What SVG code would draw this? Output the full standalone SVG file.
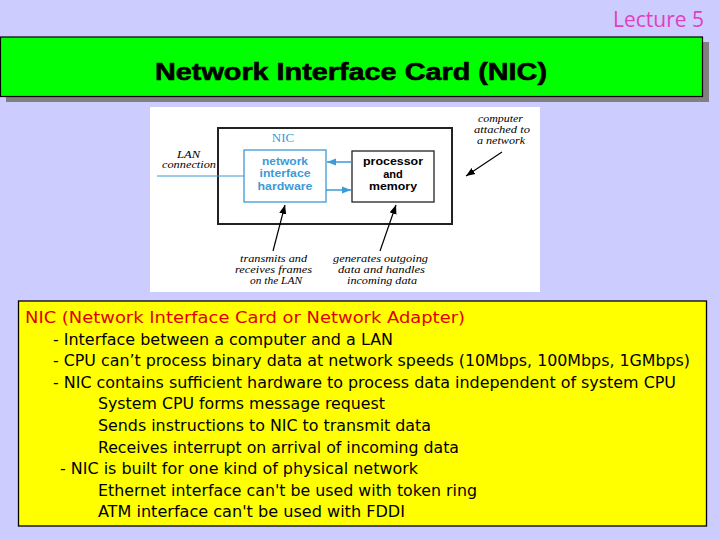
<svg xmlns="http://www.w3.org/2000/svg" width="720" height="540" viewBox="0 0 720 540">
<defs>
<style>
.bul{font-family:"DejaVu Sans Condensed","Liberation Sans",sans-serif;font-size:16px;fill:#000}
.ital{font-family:"Liberation Serif",serif;font-style:italic;font-size:10.5px;fill:#000}
.blue{font-family:"Liberation Sans",sans-serif;font-weight:bold;font-size:11px;fill:#3d9ad6}
.blk{font-family:"Liberation Sans",sans-serif;font-weight:bold;font-size:11px;fill:#000}
</style>
<marker id="ab" viewBox="0 0 10 10" refX="10" refY="5" markerWidth="9" markerHeight="9" markerUnits="userSpaceOnUse" orient="auto"><path d="M0,1 L10,5 L0,9 z" fill="#3d9ad6"/></marker>
<marker id="ak" viewBox="0 0 10 10" refX="10" refY="5" markerWidth="9" markerHeight="9" markerUnits="userSpaceOnUse" orient="auto"><path d="M0,1 L10,5 L0,9 z" fill="#000"/></marker>
</defs>
<rect width="720" height="540" fill="#ccccff"/>
<text x="704" y="27" text-anchor="end" font-family="'Open Sans','Liberation Sans',sans-serif" font-size="21" fill="#e040c0">Lecture 5</text>
<g id="title">
<rect x="6" y="42" width="703" height="60" fill="#808080"/>
<rect x="0.5" y="37" width="702" height="59.5" fill="#00ff00" stroke="#000" stroke-width="1.2"/>
<text x="351" y="80" text-anchor="middle" font-family="'Liberation Sans',sans-serif" font-weight="bold" font-size="24" textLength="392" lengthAdjust="spacingAndGlyphs" fill="#000" stroke="#000" stroke-width="0.6">Network Interface Card (NIC)</text>
</g>
<g id="figure">
<rect x="150" y="107" width="390" height="185" fill="#ffffff"/>
<g id="computer">
<rect x="218" y="128" width="234" height="96" fill="none" stroke="#222" stroke-width="2"/>
<text x="283" y="142" text-anchor="middle" font-family="'Liberation Serif',serif" font-size="13" fill="#3d9ad6">NIC</text>
</g>
<g id="nic-hw">
<rect x="244" y="150" width="82" height="52" fill="none" stroke="#3d9ad6" stroke-width="1.3"/>
<text class="blue" x="285" y="164.5" text-anchor="middle" textLength="46" lengthAdjust="spacingAndGlyphs">network</text>
<text class="blue" x="285" y="177" text-anchor="middle" textLength="51" lengthAdjust="spacingAndGlyphs">interface</text>
<text class="blue" x="285" y="189.5" text-anchor="middle" textLength="55" lengthAdjust="spacingAndGlyphs">hardware</text>
</g>
<g id="proc">
<rect x="352" y="151" width="82" height="51" fill="none" stroke="#222" stroke-width="1.3"/>
<text class="blk" x="393" y="165" text-anchor="middle" textLength="60" lengthAdjust="spacingAndGlyphs">processor</text>
<text class="blk" x="393" y="177.5" text-anchor="middle">and</text>
<text class="blk" x="393" y="190" text-anchor="middle" textLength="48" lengthAdjust="spacingAndGlyphs">memory</text>
</g>
<g id="labels">
<text class="ital" x="177" y="158" textLength="23" lengthAdjust="spacingAndGlyphs">LAN</text>
<text class="ital" x="162" y="167.5" textLength="54" lengthAdjust="spacingAndGlyphs">connection</text>
<text class="ital" x="478" y="121.5" textLength="45" lengthAdjust="spacingAndGlyphs">computer</text>
<text class="ital" x="474" y="132.5" textLength="56" lengthAdjust="spacingAndGlyphs">attached to</text>
<text class="ital" x="477" y="143.5" textLength="48" lengthAdjust="spacingAndGlyphs">a network</text>
<text class="ital" x="240" y="262" textLength="67" lengthAdjust="spacingAndGlyphs">transmits and</text>
<text class="ital" x="235" y="273" textLength="77" lengthAdjust="spacingAndGlyphs">receives frames</text>
<text class="ital" x="250" y="284" textLength="52" lengthAdjust="spacingAndGlyphs">on the LAN</text>
<text class="ital" x="333" y="262" textLength="95" lengthAdjust="spacingAndGlyphs">generates outgoing</text>
<text class="ital" x="338" y="273" textLength="87" lengthAdjust="spacingAndGlyphs">data and handles</text>
<text class="ital" x="347" y="284" textLength="70" lengthAdjust="spacingAndGlyphs">incoming data</text>
</g>
<g id="connectors" fill="none">
<line x1="157" y1="176" x2="244" y2="176" stroke="#3d9ad6" stroke-width="1"/>
<line x1="352" y1="162" x2="327" y2="162" stroke="#3d9ad6" stroke-width="1.5" marker-end="url(#ab)"/>
<line x1="326" y1="190" x2="351" y2="190" stroke="#3d9ad6" stroke-width="1.5" marker-end="url(#ab)"/>
<line x1="502" y1="152" x2="466" y2="176" stroke="#000" stroke-width="1.2" marker-end="url(#ak)"/>
<line x1="273" y1="251" x2="285" y2="205" stroke="#000" stroke-width="1.2" marker-end="url(#ak)"/>
<line x1="380" y1="251" x2="396" y2="205" stroke="#000" stroke-width="1.2" marker-end="url(#ak)"/>
</g>
</g>
<g id="notes">
<rect x="18.5" y="301" width="688" height="225" fill="#ffff00" stroke="#000" stroke-width="1.3"/>
<text class="bul" x="25" y="323" style="fill:#e00000" font-size="17" textLength="440" lengthAdjust="spacingAndGlyphs">NIC (Network Interface Card or Network Adapter)</text>
<text class="bul" x="53" y="345" textLength="340" lengthAdjust="spacingAndGlyphs">- Interface between a computer and a LAN</text>
<text class="bul" x="53" y="366" textLength="637" lengthAdjust="spacingAndGlyphs">- CPU can’t process binary data at network speeds (10Mbps, 100Mbps, 1GMbps)</text>
<text class="bul" x="53" y="388" textLength="623" lengthAdjust="spacingAndGlyphs">- NIC contains sufficient hardware to process data independent of system CPU</text>
<text class="bul" x="98" y="409" textLength="287" lengthAdjust="spacingAndGlyphs">System CPU forms message request</text>
<text class="bul" x="98" y="431" textLength="333" lengthAdjust="spacingAndGlyphs">Sends instructions to NIC to transmit data</text>
<text class="bul" x="98" y="453" textLength="361" lengthAdjust="spacingAndGlyphs">Receives interrupt on arrival of incoming data</text>
<text class="bul" x="60" y="474" textLength="358" lengthAdjust="spacingAndGlyphs">- NIC is built for one kind of physical network</text>
<text class="bul" x="98" y="496" textLength="379" lengthAdjust="spacingAndGlyphs">Ethernet interface can't be used with token ring</text>
<text class="bul" x="98" y="517" textLength="307" lengthAdjust="spacingAndGlyphs">ATM interface can't be used with FDDI</text>
</g>
</svg>
